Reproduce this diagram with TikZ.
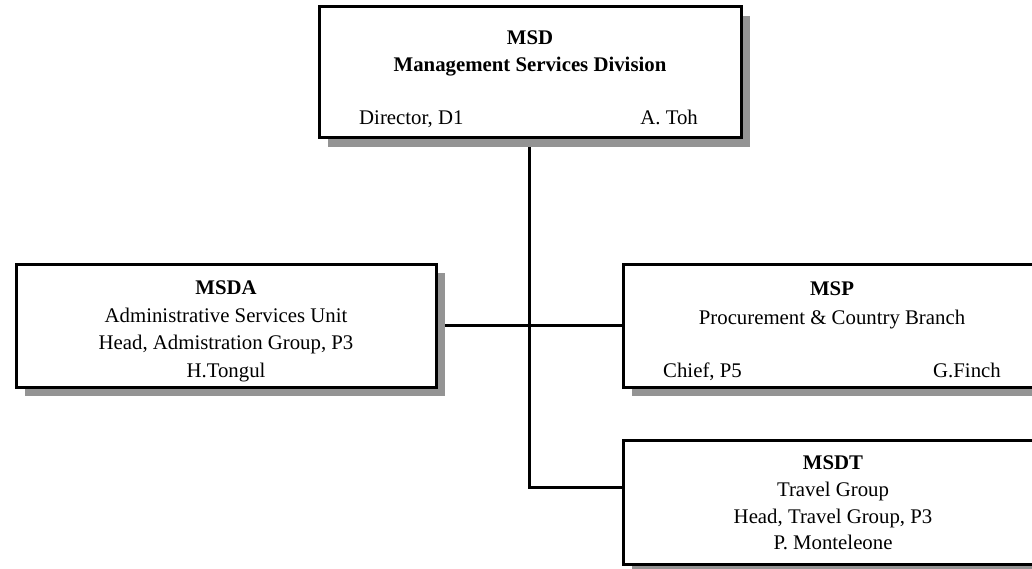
\documentclass[tikz,border=0pt]{standalone}
\usepackage{fontspec}
\setmainfont{Liberation Serif}
\usetikzlibrary{shadows,backgrounds}
\tikzset{
  orgbox/.style={draw=black, line width=3pt, fill=white, inner sep=0pt,
    minimum width=420pt, minimum height=123pt,
    drop shadow={shadow xshift=9pt, shadow yshift=-9pt, fill=black!42, opacity=1}},
  txt/.style={font=\fontsize{20.8}{27.5}\selectfont, inner sep=0pt},
  ttl/.style={txt, font=\fontsize{20.8}{27.5}\selectfont\bfseries},
  conn/.style={draw=black, line width=3pt}
}
\begin{document}
\begin{tikzpicture}[x=1pt,y=-1pt]
\useasboundingbox (0,0) rectangle (1032,569);
% boxes
\node[orgbox, minimum width=422pt, minimum height=131pt] (msd) at (530,72.5) {};
\node[orgbox] (msda) at (226,325.5) {};
\node[orgbox] (msp) at (833,325.5) {};
\node[orgbox, minimum height=124pt] (msdt) at (833,502) {};
% texts MSD
\node[ttl, anchor=base] (msdT1) at (530,45) {MSD};
\node[ttl, anchor=base] (msdT2) at (530,72) {Management Services Division};
\node[txt, anchor=base west] (msdT3) at (359,125) {Director, D1};
\node[txt, anchor=base east] (msdT4) at (698,125) {A. Toh};
% texts MSDA
\node[ttl, anchor=base] (msdaT1) at (226,294) {MSDA};
\node[txt, anchor=base] (msdaT2) at (226,322) {Administrative Services Unit};
\node[txt, anchor=base] (msdaT3) at (226,349) {Head, Admistration Group, P3};
\node[txt, anchor=base] (msdaT4) at (226,377) {H.Tongul};
% texts MSP
\node[ttl, anchor=base] (mspT1) at (832,295) {MSP};
\node[txt, anchor=base] (mspT2) at (832,324) {Procurement \& Country Branch};
\node[txt, anchor=base west] (mspT3) at (663,377) {Chief, P5};
\node[txt, anchor=base east] (mspT4) at (1001,377) {G.Finch};
% texts MSDT
\node[ttl, anchor=base] (msdtT1) at (833,469) {MSDT};
\node[txt, anchor=base] (msdtT2) at (833,496) {Travel Group};
\node[txt, anchor=base] (msdtT3) at (833,523) {Head, Travel Group, P3};
\node[txt, anchor=base] (msdtT4) at (833,549) {P. Monteleone};
% connectors
\coordinate (tjoin) at ([yshift=15pt]msdt.west);
\coordinate (corner) at ([xshift=-1pt]msd.south |- tjoin);
\begin{pgfonlayer}{background}
\draw[conn] ([xshift=-1pt]msd.south) -- (corner) -- (tjoin);
\draw[conn] (msda.east) -- (msp.west);
\end{pgfonlayer}
\end{tikzpicture}
\end{document}
